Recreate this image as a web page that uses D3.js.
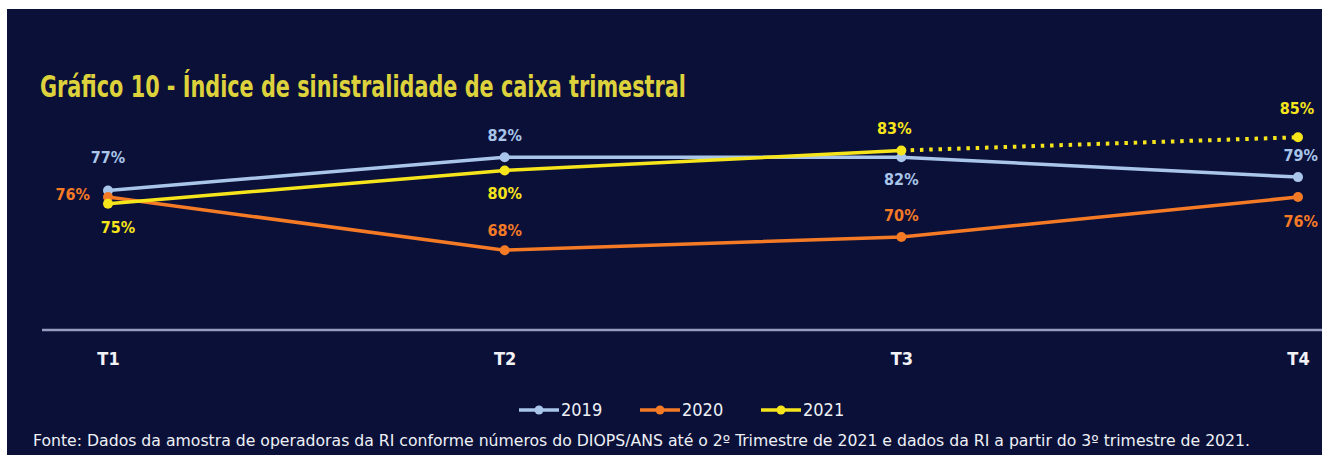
<!DOCTYPE html>
<html>
<head>
<meta charset="utf-8">
<script src="https://cdn.jsdelivr.net/npm/d3@7"></script>
<style>
  html, body { margin: 0; padding: 0; background: #fff; }
  svg { display: block; }
  text { font-family: "Liberation Sans Narrow", "DejaVu Sans Condensed", "Roboto Condensed", sans-serif; }
</style>
</head>
<body>
<svg id="chart"></svg>
<script>
// Quarterly cash claims ratio (índice de sinistralidade de caixa)
const quarters = ['T1', 'T2', 'T3', 'T4'];
const years = ['2019', '2020', '2021'];
const values2019 = [0.77, 0.82, 0.82, 0.79];
const values2020 = [0.76, 0.68, 0.70, 0.76];
const values2021 = [0.75, 0.80, 0.83, 0.85];
const colors = ['#a9c5ea', '#f47a26', '#f7e51c'];
const titleText = 'Gráfico 10 - Índice de sinistralidade de caixa trimestral';
const sourceText = 'Fonte: Dados da amostra de operadoras da RI conforme números do DIOPS/ANS até o 2º Trimestre de 2021 e dados da RI a partir do 3º trimestre de 2021.';

// label placement per series/point: [dx, dy, anchor]
const labelPos = [
    [[0, -33, 'middle'], [0, -22, 'middle'], [0, 22, 'middle'], [20, -22, 'end']],
    [[-18, -3, 'end'], [0, -20, 'middle'], [0, -22, 'middle'], [20, 24, 'end']],
    [[10, 24, 'middle'], [0, 23, 'middle'], [-7, -22, 'middle'], [-1, -29, 'middle']]
];

const W = 1322, H = 455;
const svg = d3.select('#chart').attr('width', W).attr('height', H);

// dark panel (white strip on top/left as in the source scan)
svg.append('rect').attr('x', 7).attr('y', 9).attr('width', W - 7).attr('height', H - 9)
    .attr('fill', '#0b1038');

const x = d3.scalePoint().domain(quarters).range([108, 1298]);
const y = d3.scaleLinear().domain([0.56, 0.90]).range([330, 104]);
const fmt = d3.format('.0%');

// title
svg.append('text')
    .attr('x', 40).attr('y', 97)
    .attr('fill', '#ddd23c')
    .style('font-size', '30px').style('font-weight', 'bold')
    .attr('textLength', 646).attr('lengthAdjust', 'spacingAndGlyphs')
    .text(titleText);

// x axis
const xAxis = svg.append('g').attr('transform', 'translate(0,330)')
    .call(d3.axisBottom(x).tickSize(0).tickPadding(22));
xAxis.select('.domain').remove();
xAxis.append('line').attr('x1', 42).attr('x2', W).attr('y1', 0).attr('y2', 0)
    .attr('stroke', '#949dbf').attr('stroke-width', 2.5);
xAxis.selectAll('.tick text')
    .attr('fill', '#f2f2f6')
    .style('font-size', '18px').style('font-weight', 'bold')
    .style('font-family', '"Liberation Sans Narrow", "DejaVu Sans Condensed", sans-serif');

const series = [values2019, values2020, values2021];
const line = d3.line().x((d, i) => x(quarters[i])).y(d => y(d));

series.forEach((vals, s) => {
    const g = svg.append('g');
    if (s === 2) {
        // 2021: solid up to T3, dotted estimate to T4
        g.append('path').datum(vals.slice(0, 3))
            .attr('d', line).attr('fill', 'none')
            .attr('stroke', colors[s]).attr('stroke-width', 3.5);
        g.append('path')
            .datum(vals.slice(2))
            .attr('d', d3.line().x((d, i) => x(quarters[i + 2])).y(d => y(d)))
            .attr('fill', 'none').attr('stroke', colors[s]).attr('stroke-width', 4)
            .attr('stroke-dasharray', '3.5 5.8');
    } else {
        g.append('path').datum(vals)
            .attr('d', line).attr('fill', 'none')
            .attr('stroke', colors[s]).attr('stroke-width', 3.5);
    }
    g.selectAll('circle').data(vals).enter().append('circle')
        .attr('cx', (d, i) => x(quarters[i])).attr('cy', d => y(d))
        .attr('r', 5).attr('fill', colors[s]);
    g.selectAll('text').data(vals).enter().append('text')
        .attr('x', (d, i) => x(quarters[i]) + labelPos[s][i][0])
        .attr('y', (d, i) => y(d) + labelPos[s][i][1])
        .attr('text-anchor', (d, i) => labelPos[s][i][2])
        .attr('dy', '0.35em')
        .attr('fill', colors[s])
        .style('font-size', '16px').style('font-weight', 'bold')
        .text(d => fmt(d));
});

// legend
const legend = svg.append('g').attr('transform', 'translate(519,410)');
years.forEach((yr, i) => {
    const item = legend.append('g').attr('transform', `translate(${i * 121},0)`);
    item.append('line').attr('x1', 0).attr('x2', 40).attr('y1', 0).attr('y2', 0)
        .attr('stroke', colors[i]).attr('stroke-width', 3.5);
    item.append('circle').attr('cx', 20).attr('cy', 0).attr('r', 4.5).attr('fill', colors[i]);
    item.append('text').attr('x', 42).attr('y', 0).attr('dy', '0.36em')
        .attr('fill', '#eef0f6').style('font-size', '18px')
        .text(yr);
});

// source note
svg.append('text')
    .attr('x', 33).attr('y', 446)
    .attr('fill', '#eef0f6')
    .style('font-size', '15px')
    .attr('textLength', 1217).attr('lengthAdjust', 'spacingAndGlyphs')
    .text(sourceText);
</script>
</body>
</html>
